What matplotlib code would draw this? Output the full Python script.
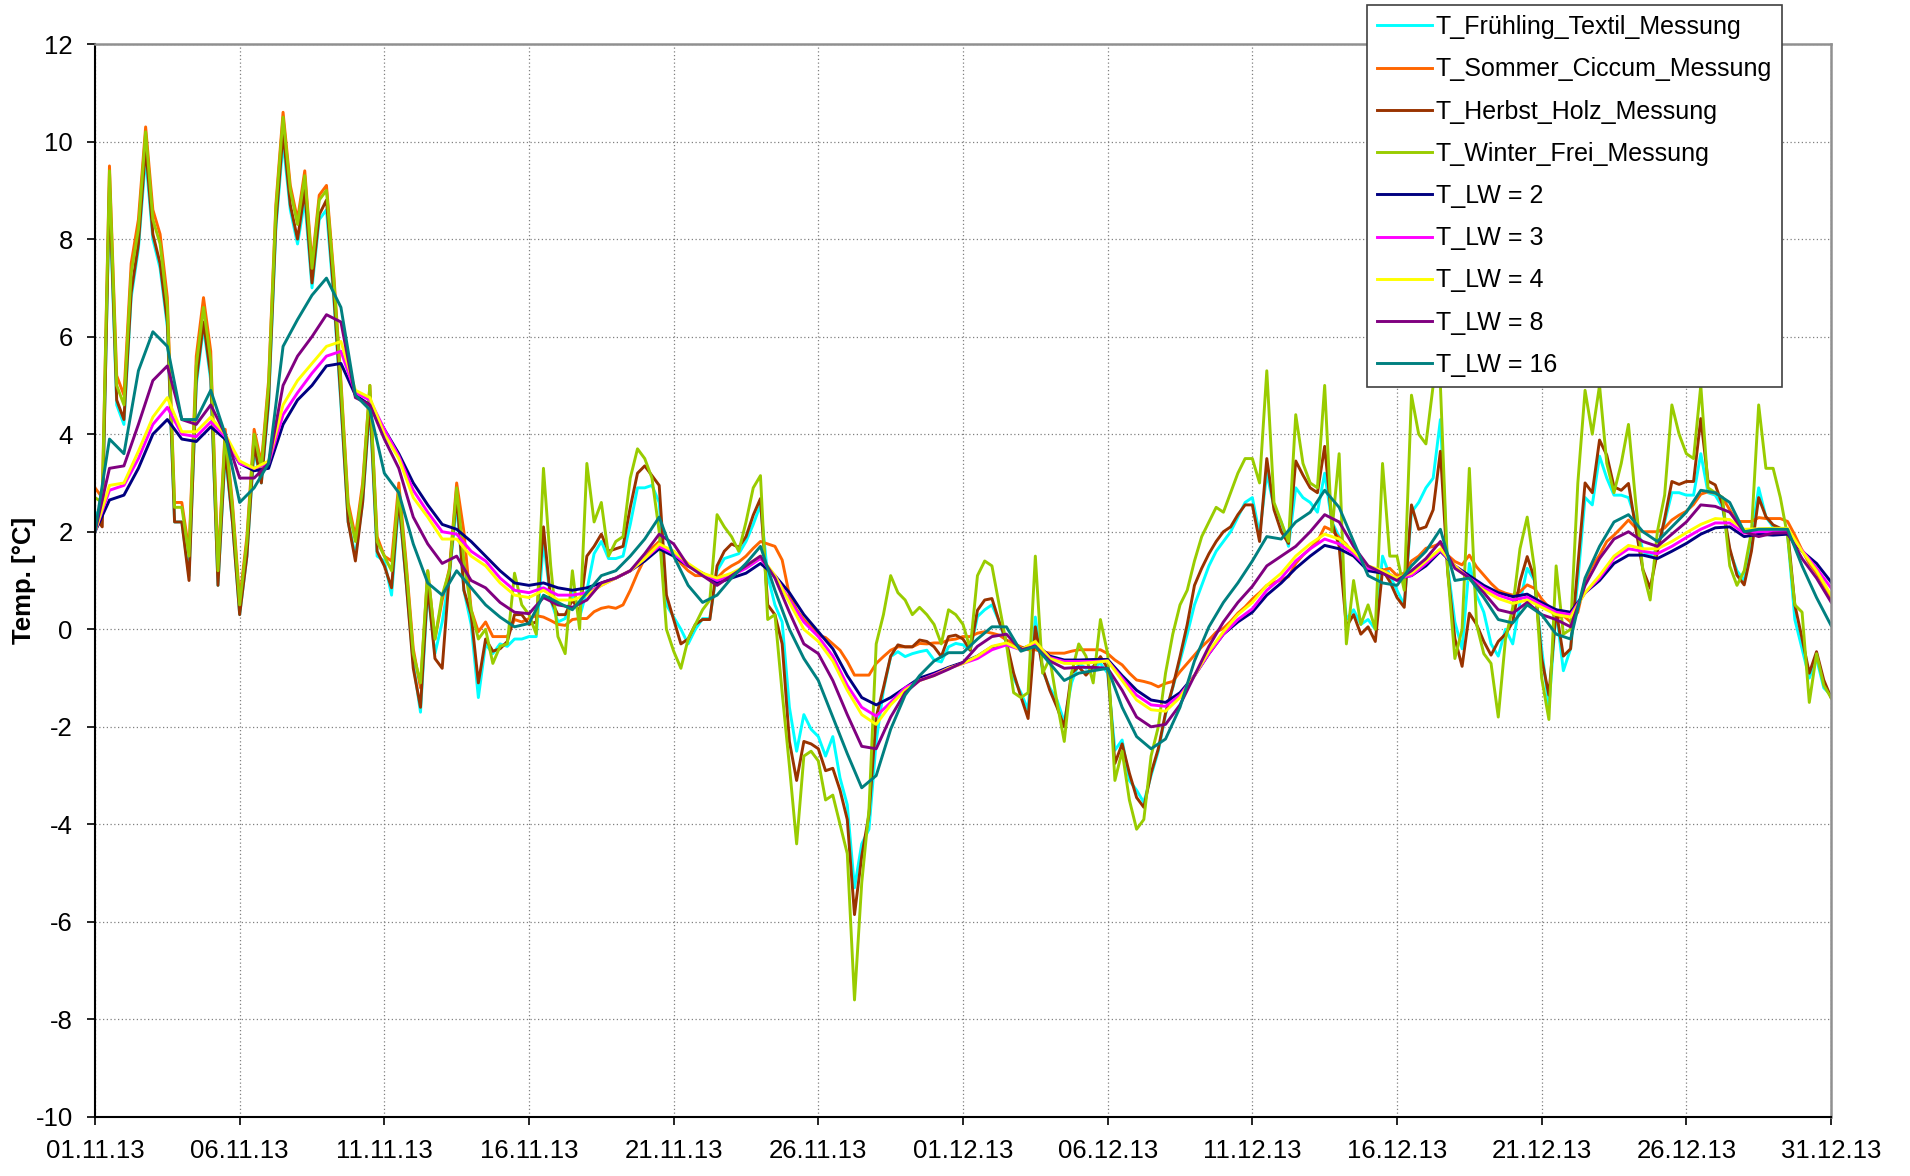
import numpy as np
import pandas as pd
import matplotlib
matplotlib.use("Agg")
import matplotlib.pyplot as plt
import matplotlib.dates as mdates

plt.rcParams["font.family"] = ["Liberation Sans", "DejaVu Sans"]
plt.rcParams["axes.unicode_minus"] = False

# Messwerte alle 6 h, Rechenwerte (Lüftungswechsel) alle 12 h
t_mess = pd.date_range("2013-11-01", "2013-12-31", freq="6h")
t_lw = pd.date_range("2013-11-01", "2013-12-31", freq="12h")

t_fruehling = [
    2.4, 2.3, 8.9, 4.6, 4.2, 6.8, 7.8, 9.7, 8.0, 7.4, 6.2, 2.2, 2.2, 1.1, 5.0, 6.2,
    5.1, 0.9, 3.6, 2.2, 0.3, 1.5, 3.7, 3.0, 4.6, 8.2, 10.0, 8.6, 7.9, 8.8, 7.0, 8.4,
    8.6, 6.8, 4.6, 2.2, 1.5, 2.6, 4.6, 1.5, 1.4, 0.7, 2.6, 1.0, -0.7, -1.7, 0.8, -0.5,
    0.15, 1.1, 2.6, 0.8, 0.1, -1.4, -0.3, -0.5, -0.3, -0.35, -0.2, -0.2, -0.15, -0.15, 1.8, 0.6,
    0.15, 0.22, 0.75, 0.25, 0.8, 1.55, 1.8, 1.45, 1.45, 1.5, 2.15, 2.9, 2.9, 2.95, 2.6, 0.5,
    0.25, 0.0, -0.3, 0.0, 0.22, 0.22, 1.2, 1.45, 1.5, 1.55, 1.8, 2.15, 2.55, 1.1, 0.5, 0.15,
    -1.6, -2.5, -1.75, -2.05, -2.2, -2.6, -2.2, -3.05, -3.6, -5.3, -4.4, -4.1, -2.3, -1.25, -0.56, -0.46,
    -0.56, -0.5, -0.46, -0.43, -0.63, -0.67, -0.36, -0.29, -0.32, -0.43, 0.26, 0.4, 0.5, 0.16, -0.29, -1.0,
    -1.3, -1.65, 0.25, -0.85, -1.2, -1.45, -1.9, -1.1, -0.7, -0.8, -0.77, -0.7, -0.9, -2.48, -2.27, -3.1,
    -3.3, -3.55, -3.0, -2.5, -1.75, -1.2, -0.65, -0.1, 0.5, 0.9, 1.3, 1.6, 1.8, 2.0, 2.3, 2.6,
    2.7, 1.95, 3.2, 2.5, 2.2, 1.7, 2.9, 2.7, 2.6, 2.4, 3.2, 2.2, 1.9, 0.2, 0.4, 0.1,
    0.2, 0.0, 1.5, 1.1, 0.8, 0.5, 2.4, 2.6, 2.9, 3.1, 4.3, 1.3, 0.15, -0.4, 1.35, 0.7,
    0.35, -0.3, -0.55, 0.0, -0.3, 0.55, 1.25, 1.0, -0.4, -1.6, 0.4, -0.85, -0.4, 1.0, 2.7, 2.55,
    3.55, 3.1, 2.75, 2.75, 2.7, 2.25, 1.6, 1.5, 1.65, 2.2, 2.8, 2.8, 2.75, 2.75, 3.6, 2.8,
    2.75, 2.5, 1.6, 1.2, 1.0, 1.9, 2.9, 2.3, 2.1, 2.05, 1.95, 0.2, -0.4, -1.0, -0.6, -1.2,
    -1.35,
]

t_sommer = [
    2.9, 2.7, 9.5, 5.2, 4.8, 7.5, 8.4, 10.3, 8.6, 8.1, 6.8, 2.6, 2.6, 1.6, 5.6, 6.8,
    5.7, 1.3, 4.1, 2.6, 0.6, 1.9, 4.1, 3.4, 5.1, 8.7, 10.6, 9.1, 8.4, 9.4, 7.5, 8.9,
    9.1, 7.3, 5.1, 2.6, 1.9, 3.0, 5.0, 1.9, 1.5, 1.4, 3.0, 1.4, -0.4, -1.2, 1.2, -0.2,
    0.6, 1.25, 3.0, 2.0, 0.4, -0.05, 0.15, -0.15, -0.15, -0.15, 0.2, 0.15, 0.22, 0.28, 0.25, 0.18,
    0.1, 0.08, 0.2, 0.22, 0.22, 0.36, 0.43, 0.46, 0.43, 0.5, 0.8, 1.15, 1.45, 1.66, 1.8, 1.6,
    1.6, 1.35, 1.2, 1.1, 1.1, 1.05, 1.05, 1.2, 1.3, 1.38, 1.5, 1.66, 1.8, 1.75, 1.7, 1.42,
    0.7, 0.4, 0.2, 0.05, -0.12, -0.17, -0.3, -0.43, -0.66, -0.94, -0.94, -0.94, -0.7, -0.56, -0.43, -0.36,
    -0.36, -0.36, -0.29, -0.3, -0.28, -0.28, -0.22, -0.2, -0.15, -0.15, -0.08, -0.05, -0.08, -0.12, -0.22, -0.29,
    -0.36, -0.42, -0.42, -0.46, -0.49, -0.49, -0.49, -0.45, -0.42, -0.42, -0.42, -0.42, -0.5, -0.63, -0.73, -0.9,
    -1.04, -1.07, -1.11, -1.18, -1.11, -1.07, -0.87, -0.7, -0.53, -0.36, -0.22, -0.06, 0.02, 0.16, 0.33, 0.46,
    0.62, 0.75, 0.9, 0.96, 1.01, 1.08, 1.35, 1.52, 1.66, 1.8, 2.1, 2.03, 1.88, 1.74, 1.53, 1.39,
    1.26, 1.21, 1.21, 1.25, 1.1, 1.15, 1.4, 1.5, 1.66, 1.7, 1.76, 1.52, 1.39, 1.32, 1.52, 1.28,
    1.11, 0.94, 0.8, 0.74, 0.7, 0.77, 0.91, 0.84, 0.62, 0.45, 0.22, 0.28, 0.15, 0.35, 1.0, 1.3,
    1.52, 1.8, 1.93, 2.08, 2.24, 2.08, 2.0, 2.0, 2.0, 2.08, 2.24, 2.34, 2.42, 2.56, 2.77, 2.82,
    2.79, 2.7, 2.45, 2.21, 2.21, 2.21, 2.29, 2.27, 2.27, 2.27, 2.21, 1.93, 1.62, 1.35, 1.15, 0.91,
    0.65,
]

t_herbst = [
    2.3, 2.1, 9.1, 4.7, 4.3, 6.9, 7.9, 9.9, 8.1, 7.5, 6.3, 2.2, 2.2, 1.0, 5.1, 6.3,
    5.2, 0.9, 3.7, 2.2, 0.3, 1.5, 3.8, 3.0, 4.7, 8.3, 10.2, 8.7, 8.0, 9.0, 7.1, 8.5,
    8.8, 6.9, 4.7, 2.2, 1.4, 2.6, 4.7, 1.6, 1.3, 0.85, 2.7, 1.0, -0.8, -1.6, 0.9, -0.6,
    -0.8, 1.15, 2.75, 0.8, 0.3, -1.1, -0.2, -0.45, -0.4, -0.25, 0.3, 0.3, 0.1, 0.15, 2.1, 0.6,
    0.3, 0.3, 0.6, 0.35, 1.5, 1.7, 1.95, 1.6, 1.65, 1.7, 2.5, 3.2, 3.35, 3.15, 2.95, 0.7,
    0.2, -0.3, -0.2, 0.1, 0.2, 0.2, 1.3, 1.6, 1.75, 1.68, 1.9, 2.34, 2.68, 0.5, 0.3, -0.3,
    -2.3, -3.1, -2.3, -2.35, -2.45, -2.9, -2.85, -3.3, -3.9, -5.85, -4.65, -3.8, -1.8, -1.2, -0.55, -0.32,
    -0.36, -0.36, -0.22, -0.25, -0.36, -0.56, -0.15, -0.12, -0.2, -0.43, 0.39, 0.6, 0.63, 0.16, -0.25, -0.9,
    -1.38, -1.83, 0.05, -0.8, -1.25, -1.6, -2.0, -0.9, -0.77, -0.94, -0.77, -0.56, -0.8, -2.75, -2.35, -2.95,
    -3.45, -3.65, -2.95, -2.45, -1.72, -1.18, -0.56, 0.1, 0.9, 1.25, 1.55, 1.8, 2.0, 2.1, 2.35, 2.55,
    2.55, 1.8, 3.5, 2.45, 2.0, 1.76, 3.45, 3.16, 2.9, 2.8, 3.75, 2.2, 1.7, 0.05, 0.3, -0.1,
    0.05, -0.25, 1.22, 0.98, 0.65, 0.45, 2.55, 2.05, 2.1, 2.45, 3.65, 1.2, -0.19, -0.76, 0.33, 0.1,
    -0.25, -0.53, -0.25, -0.1, 0.15, 0.98, 1.49, 1.04, -0.6, -1.35, 0.4, -0.55, -0.4, 1.3, 3.0, 2.8,
    3.88, 3.57, 2.92, 2.85, 2.99, 2.07, 1.22, 0.84, 1.59, 2.27, 3.03, 2.97, 3.03, 3.03, 4.32, 3.04,
    2.96, 2.55, 1.66, 1.11, 0.91, 1.6, 2.7, 2.31, 2.14, 2.07, 2.03, 0.5, -0.19, -0.9, -0.46, -1.04,
    -1.4,
]

t_winter = [
    2.7, 2.6, 9.4, 5.0, 4.6, 7.3, 8.2, 10.2, 8.4, 7.9, 6.6, 2.5, 2.5, 1.5, 5.4, 6.6,
    5.5, 1.2, 4.0, 2.5, 0.5, 1.8, 4.0, 3.3, 5.0, 8.6, 10.5, 9.0, 8.3, 9.3, 7.4, 8.8,
    9.0, 7.2, 5.0, 2.5, 1.8, 2.9, 5.0, 1.8, 1.5, 1.2, 2.85, 1.3, -0.5, -1.1, 1.2, -0.2,
    0.7, 1.2, 2.9, 1.4, 0.4, -0.2, 0.0, -0.7, -0.35, -0.3, 1.15, 0.5, 0.3, -0.1, 3.3, 1.3,
    -0.15, -0.5, 1.2, 0.0, 3.4, 2.2, 2.6, 1.5, 1.8, 1.9, 3.1, 3.7, 3.5, 3.1, 2.0, 0.0,
    -0.45, -0.8, -0.2, 0.1, 0.4, 0.6, 2.35, 2.1, 1.9, 1.6, 2.2, 2.9, 3.15, 0.2, 0.3, -1.3,
    -2.8, -4.4, -2.6, -2.5, -2.7, -3.5, -3.4, -4.0, -4.6, -7.6, -5.2, -3.7, -0.3, 0.3, 1.1, 0.75,
    0.6, 0.3, 0.45, 0.3, 0.1, -0.3, 0.4, 0.3, 0.1, -0.4, 1.1, 1.4, 1.3, 0.5, -0.3, -1.3,
    -1.4, -1.3, 1.5, -0.9, -0.6, -1.5, -2.3, -0.9, -0.3, -0.55, -1.1, 0.2, -0.5, -3.1, -2.5, -3.5,
    -4.1, -3.9, -2.6, -2.0, -0.9, -0.1, 0.5, 0.8, 1.4, 1.9, 2.2, 2.5, 2.4, 2.8, 3.2, 3.5,
    3.5, 3.0, 5.3, 2.6, 2.2, 1.8, 4.4, 3.4, 3.0, 2.9, 5.0, 2.0, 3.6, -0.3, 1.0, 0.1,
    0.5, 0.0, 3.4, 1.5, 1.5, 0.8, 4.8, 4.0, 3.8, 5.0, 5.0, 1.2, -0.6, 0.0, 3.3, 0.1,
    -0.5, -0.7, -1.8, -0.2, 0.45, 1.65, 2.3, 1.25, -1.0, -1.85, 1.3, -0.1, 0.0, 3.0, 4.9, 4.0,
    5.0, 3.4, 2.8, 3.4, 4.2, 2.6, 1.2, 0.6, 2.0, 2.75, 4.6, 4.0, 3.6, 3.5, 5.0, 2.9,
    2.8, 2.7, 1.3, 0.9, 1.2, 2.0, 4.6, 3.3, 3.3, 2.7, 1.9, 0.5, 0.35, -1.5, -0.5, -1.15,
    -1.4,
]

t_lw2 = [
    2.0, 2.65, 2.75, 3.3, 4.0, 4.3, 3.9, 3.85, 4.15, 3.9, 3.4, 3.25, 3.3, 4.2, 4.7, 5.0,
    5.4, 5.45, 4.8, 4.6, 4.1, 3.6, 3.0, 2.55, 2.15, 2.05, 1.8, 1.5, 1.2, 0.95, 0.9, 0.95,
    0.85, 0.8, 0.85, 0.95, 1.05, 1.2, 1.4, 1.65, 1.5, 1.3, 1.15, 0.95, 1.05, 1.15, 1.35, 1.1,
    0.75, 0.3, -0.05, -0.4, -0.95, -1.4, -1.55, -1.4, -1.2, -1.0, -0.9, -0.78, -0.68, -0.55, -0.36, -0.3,
    -0.4, -0.3, -0.55, -0.63, -0.63, -0.62, -0.62, -0.95, -1.25, -1.45, -1.5, -1.3, -0.95, -0.5, -0.1, 0.15,
    0.35, 0.7, 0.95, 1.25, 1.5, 1.72, 1.65, 1.5, 1.2, 1.15, 1.05, 1.1, 1.3, 1.6, 1.3, 1.1,
    0.9, 0.75, 0.67, 0.72, 0.55, 0.4, 0.35, 0.75, 1.0, 1.35, 1.52, 1.52, 1.45, 1.6, 1.76, 1.95,
    2.08, 2.1, 1.9, 1.95, 1.93, 1.95, 1.6, 1.35, 0.97,
]

t_lw3 = [
    2.0, 2.85, 2.95, 3.5, 4.2, 4.55, 4.0, 3.95, 4.25, 3.95, 3.4, 3.3, 3.4, 4.4, 4.85, 5.25,
    5.6, 5.7, 4.85, 4.7, 4.1, 3.55, 2.85, 2.4, 2.0, 1.95, 1.6, 1.4, 1.05, 0.8, 0.75, 0.85,
    0.7, 0.7, 0.75, 0.9, 1.05, 1.2, 1.45, 1.7, 1.55, 1.3, 1.15, 1.0, 1.1, 1.25, 1.45, 1.1,
    0.6, 0.15, -0.15, -0.55, -1.15, -1.6, -1.78, -1.5, -1.2, -1.05, -0.93, -0.8, -0.7, -0.6, -0.42, -0.32,
    -0.42, -0.28, -0.58, -0.66, -0.66, -0.66, -0.65, -1.0, -1.35, -1.55, -1.58, -1.35, -0.95, -0.5, -0.1, 0.2,
    0.42, 0.8, 1.05, 1.4, 1.65, 1.85, 1.75, 1.55, 1.25, 1.2, 1.05, 1.1, 1.35, 1.62, 1.3, 1.05,
    0.85, 0.7, 0.6, 0.66, 0.5, 0.35, 0.3, 0.75, 1.05, 1.45, 1.65, 1.6, 1.55, 1.7, 1.88, 2.05,
    2.18, 2.18, 1.97, 2.0, 2.0, 2.0, 1.62, 1.25, 0.85,
]

t_lw4 = [
    2.0, 2.95, 3.0, 3.65, 4.35, 4.75, 4.05, 4.05, 4.35, 4.0, 3.45, 3.3, 3.45, 4.6, 5.1, 5.45,
    5.8, 5.9, 4.9, 4.75, 4.0, 3.5, 2.7, 2.3, 1.85, 1.85, 1.5, 1.3, 0.95, 0.7, 0.65, 0.8,
    0.6, 0.6, 0.7, 0.9, 1.05, 1.2, 1.45, 1.75, 1.6, 1.35, 1.15, 1.05, 1.15, 1.3, 1.5, 1.1,
    0.55, 0.0, -0.25, -0.65, -1.25, -1.75, -1.95, -1.55, -1.25, -1.05, -0.95, -0.8, -0.7, -0.55, -0.35, -0.28,
    -0.42, -0.25, -0.6, -0.7, -0.7, -0.68, -0.65, -1.05, -1.45, -1.65, -1.68, -1.4, -0.95, -0.45, -0.05, 0.3,
    0.55, 0.9, 1.15, 1.5, 1.75, 1.95, 1.85, 1.6, 1.3, 1.2, 1.05, 1.15, 1.4, 1.65, 1.3, 1.02,
    0.8, 0.63, 0.53, 0.6, 0.45, 0.3, 0.25, 0.75, 1.1, 1.5, 1.72, 1.65, 1.65, 1.8, 1.98, 2.15,
    2.27, 2.25, 2.05, 2.06, 2.07, 2.07, 1.6, 1.2, 0.7,
]

t_lw8 = [
    2.0, 3.3, 3.35, 4.2, 5.1, 5.4, 4.3, 4.2, 4.6, 4.0, 3.1, 3.1, 3.4, 5.0, 5.6, 6.0,
    6.45, 6.3, 4.75, 4.6, 3.9, 3.3, 2.3, 1.75, 1.35, 1.5, 1.0, 0.85, 0.55, 0.35, 0.32, 0.65,
    0.5, 0.45, 0.6, 0.95, 1.05, 1.2, 1.55, 1.95, 1.75, 1.3, 1.1, 0.9, 1.1, 1.3, 1.5, 1.05,
    0.35, -0.3, -0.5, -1.05, -1.75, -2.4, -2.45, -1.8, -1.3, -1.05, -0.95, -0.82, -0.68, -0.35, -0.15, -0.1,
    -0.42, -0.35, -0.65, -0.8, -0.78, -0.78, -0.8, -1.25, -1.8, -2.0, -1.95, -1.55, -0.95, -0.35, 0.15, 0.55,
    0.88, 1.3, 1.5, 1.7, 2.0, 2.35, 2.2, 1.7, 1.3, 1.15, 1.0, 1.2, 1.45, 1.8, 1.25, 1.05,
    0.75, 0.4, 0.33, 0.55, 0.3, 0.2, 0.05, 0.9, 1.45, 1.85, 2.0, 1.8, 1.7, 1.95, 2.2, 2.55,
    2.52, 2.4, 2.0, 1.9, 1.97, 1.98, 1.45, 1.05, 0.56,
]

t_lw16 = [
    2.0, 3.9, 3.6, 5.3, 6.1, 5.8, 4.3, 4.3, 4.9, 4.0, 2.6, 2.9, 3.4, 5.8, 6.35, 6.85,
    7.2, 6.6, 4.8, 4.5, 3.2, 2.8, 1.75, 0.95, 0.7, 1.2, 0.85, 0.5, 0.25, 0.05, 0.12, 0.7,
    0.55, 0.4, 0.75, 1.1, 1.2, 1.5, 1.85, 2.3, 1.5, 0.9, 0.55, 0.7, 1.05, 1.35, 1.7, 0.8,
    0.0, -0.6, -1.05, -1.8, -2.55, -3.25, -3.0, -2.05, -1.35, -0.95, -0.65, -0.48, -0.48, -0.2, 0.05, 0.05,
    -0.45, -0.35, -0.7, -1.05, -0.9, -0.85, -0.8, -1.6, -2.2, -2.45, -2.25, -1.6, -0.65, 0.05, 0.55, 0.95,
    1.4, 1.9, 1.85, 2.2, 2.4, 2.85, 2.5, 1.8, 1.1, 0.95, 0.9, 1.3, 1.6, 2.05, 1.0, 1.05,
    0.65, 0.2, 0.13, 0.5, 0.3, -0.1, -0.2, 1.05, 1.7, 2.2, 2.35, 2.0, 1.8, 2.1, 2.4, 2.85,
    2.8, 2.6, 2.0, 2.05, 2.05, 2.05, 1.3, 0.65, 0.08,
]

kurven = [
    ("T_Frühling_Textil_Messung", t_mess, t_fruehling, "#00FFFF"),
    ("T_Sommer_Ciccum_Messung", t_mess, t_sommer, "#FF6600"),
    ("T_Herbst_Holz_Messung", t_mess, t_herbst, "#993300"),
    ("T_Winter_Frei_Messung", t_mess, t_winter, "#99CC00"),
    ("T_LW = 2", t_lw, t_lw2, "#000080"),
    ("T_LW = 3", t_lw, t_lw3, "#FF00FF"),
    ("T_LW = 4", t_lw, t_lw4, "#FFFF00"),
    ("T_LW = 8", t_lw, t_lw8, "#800080"),
    ("T_LW = 16", t_lw, t_lw16, "#008080"),
]

fig = plt.figure(figsize=(19.1, 11.76), dpi=100)
ax = fig.add_axes([95 / 1910, 59 / 1176, 1736 / 1910, 1073 / 1176])

for name, t, werte, farbe in kurven:
    ax.plot(t, werte, color=farbe, lw=2.1, label=name)

ax.set_xlim(t_mess[0], t_mess[-1])
ax.set_ylim(-10, 12)
ax.set_yticks(np.arange(-10, 13, 2))
ax.set_xticks(pd.date_range("2013-11-01", "2013-12-31", freq="5D"))
ax.xaxis.set_major_formatter(mdates.DateFormatter("%d.%m.%y"))
ax.tick_params(labelsize=18.5, length=6, width=1.2, pad=10)

ax.grid(True, color="#808080", linestyle=(0, (1, 2)), linewidth=0.9)
for s in ("left", "bottom"):
    ax.spines[s].set_color("black")
    ax.spines[s].set_linewidth(1.5)
for s in ("top", "right"):
    ax.spines[s].set_color("#909090")
    ax.spines[s].set_linewidth(1.8)

ax.set_ylabel("Temp. [°C]", fontsize=18.5, fontweight="bold")
ax.yaxis.set_label_coords(-0.034, 0.5)

leg = ax.legend(loc="upper left", bbox_to_anchor=(1367 / 1910, 1 - 5 / 1176),
                bbox_transform=fig.transFigure, fontsize=18, frameon=True,
                fancybox=False, framealpha=1, edgecolor="#404040", borderpad=0.4,
                labelspacing=0.73, handlelength=2.2, handletextpad=0.15, borderaxespad=0)
leg.get_frame().set_linewidth(1.2)
leg.set_zorder(10)

fig.savefig("out.png", dpi=100)
